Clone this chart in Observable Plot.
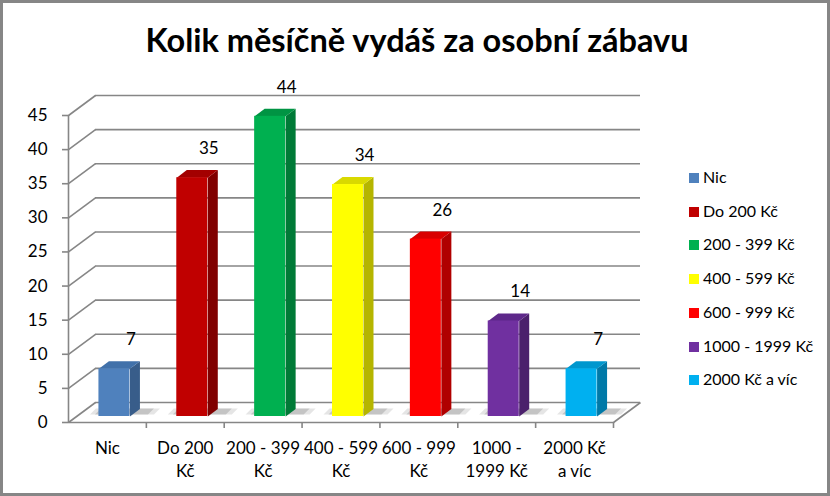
<!DOCTYPE html>
<html>
<head>
<meta charset="utf-8">
<script src="https://cdn.jsdelivr.net/npm/d3@7"></script>
<script src="https://cdn.jsdelivr.net/npm/@observablehq/plot@0.6"></script>
<style>
  html, body { margin: 0; padding: 0; background: #fff; }
  #chart { position: relative; width: 830px; height: 496px; box-sizing: border-box; border: 3px solid #868686; overflow: hidden; font-family: Lato, "Noto Sans", sans-serif; }
  #title { position: absolute; left: 0; top: 17px; width: 828px; text-align: center; font-weight: bold; font-size: 32.5px; color: #000; }
  #plot { position: absolute; left: -3px; top: 67px; }
  #legend { position: absolute; left: 686px; top: 0; }
  .item { position: absolute; left: 0; white-space: nowrap; font-size: 16px; color: #000; line-height: 20px; height: 20px; }
  .sw { display: inline-block; width: 10px; height: 10px; margin-right: 4px; }
</style>
</head>
<body>
<div id="chart">
  <div id="title"></div>
  <div id="plot"></div>
  <div id="legend"></div>
</div>
<script>
const title = "Kolik měsíčně vydáš za osobní zábavu";
const categories = ["Nic", "Do 200 Kč", "200 - 399 Kč", "400 - 599 Kč", "600 - 999 Kč", "1000 - 1999 Kč", "2000 Kč a víc"];
const axisLabels = ["Nic", "Do 200\nKč", "200 - 399\nKč", "400 - 599\nKč", "600 - 999\nKč", "1000 -\n1999 Kč", "2000 Kč\na víc"];
const values = [7, 35, 44, 34, 26, 14, 7];
const yTicks = [0, 5, 10, 15, 20, 25, 30, 35, 40, 45];
const colors = ["#4F81BD", "#C00000", "#00B050", "#FFFF00", "#FF0000", "#7030A0", "#00B0F0"];
const topColors = ["#4171AA", "#A30000", "#009443", "#D9D900", "#D90000", "#5E288A", "#0097CE"];
const sideColors = ["#385D8A", "#800000", "#007A37", "#B5B500", "#B00000", "#4B206C", "#0079A8"];

document.getElementById("title").textContent = title;

// geometry (pixels -> data units)
const W = 680, H = 429, ML = 68, MR = 67, MT = 45, MB = 77;
const n = categories.length;
const ux = (W - ML - MR) / n;
const uy = (H - MT - MB) / 45;
const DX = 27 / ux, DY = 20 / uy;            // depth of the floor / walls
const offX = 7 / ux, base = 6 / uy;         // bar front placement inside depth
const bw = 31 / ux;                          // bar front width
const bdx = 10 / ux, bdy = 7.6 / uy;         // bar depth

const rows = values.map((v, i) => {
  const xL = i + 0.5 - bw / 2 + offX;
  const xR = xL + bw;
  return {i, v, xL, xR, B: base, T: v + base};
});

const poly = [];
for (const r of rows) {
  const {i, xL, xR, B, T} = r;
  // soft shadows on the floor (two layers)
  [[-9, 14, 0.18], [-4, 8, 0.28]].forEach(([l, rr, o], k) => {
    [[xL + l / ux, B + 2 / uy], [xR + bdx + rr / ux, B + 2 / uy], [xR + bdx + (rr + 6) / ux, B + 8 / uy], [xL + (l + 6) / ux, B + 8 / uy]]
      .forEach(([x, y]) => poly.push({id: "s" + i + k, kind: "shadow", x, y, c: "#6f6f6f", o}));
  });
  // side face
  [[xR, B], [xR, T], [xR + bdx, T + bdy], [xR + bdx, B + bdy]]
    .forEach(([x, y]) => poly.push({id: "r" + i, kind: "side", x, y, c: sideColors[i]}));
  // top face
  [[xL, T], [xR, T], [xR + bdx, T + bdy], [xL + bdx, T + bdy]]
    .forEach(([x, y]) => poly.push({id: "t" + i, kind: "top", x, y, c: topColors[i]}));
}

const grid = "#868686";
const fs = 17;

const chart = Plot.plot({
  width: W, height: H,
  marginLeft: ML, marginRight: MR, marginTop: MT, marginBottom: MB,
  x: {domain: [0, n]},
  y: {domain: [0, 45]},
  color: {type: "identity"},
  style: {fontFamily: "Lato, 'Noto Sans', sans-serif", fontSize: fs + "px", color: "#000", background: "transparent", overflow: "visible"},
  marks: [
    Plot.link(yTicks, {x1: 0, y1: d => d, x2: DX, y2: d => d + DY, stroke: grid, strokeWidth: 1.6}),
    Plot.ruleY(yTicks, {y: d => d + DY, x1: DX, x2: n + DX, stroke: grid, strokeWidth: 1.6}),
    Plot.link([0], {x1: n, y1: 0, x2: n + DX, y2: DY, stroke: grid, strokeWidth: 1.6}),
    Plot.ruleY([0], {x1: 0, x2: n, stroke: grid, strokeWidth: 1.6}),
    Plot.ruleX([0], {y1: 0, y2: 45, stroke: grid, strokeWidth: 1.6}),
    Plot.axisY({ticks: yTicks, tickSize: 6, tickPadding: 15, stroke: grid, strokeWidth: 1.6, fontSize: fs, fill: "#000"}),
    Plot.axisX({ticks: d3.range(1, n + 1), tickSize: 6, tickFormat: () => "", stroke: grid, strokeWidth: 1.6}),
    Plot.text(axisLabels, {x: (d, i) => i + 0.5, y: 0, dy: 15, lineAnchor: "top", lineHeight: 1.35, fontSize: fs, fill: "#000"}),
    Plot.line(poly.filter(d => d.kind === "shadow"), {x: "x", y: "y", z: "id", fill: "c", fillOpacity: "o", stroke: null}),
    Plot.line(poly.filter(d => d.kind === "side"), {x: "x", y: "y", z: "id", fill: "c", stroke: null}),
    Plot.line(poly.filter(d => d.kind === "top"), {x: "x", y: "y", z: "id", fill: "c", stroke: null}),
    Plot.rect(rows, {x1: "xL", x2: "xR", y1: "B", y2: "T", fill: (d) => colors[d.i]}),
    Plot.text(rows, {x: d => d.xR + 1 / ux, y: "T", dy: -29, text: d => String(d.v), fontSize: fs, fill: "#000"})
  ]
});
document.getElementById("plot").appendChild(chart);

const legend = document.getElementById("legend");
categories.forEach((c, i) => {
  const el = document.createElement("div");
  el.className = "item";
  el.style.top = (174 + 33.7 * i - 10) + "px";
  el.innerHTML = `<span class="sw" style="background:${colors[i]}"></span>${c}`;
  legend.appendChild(el);
});
</script>
</body>
</html>
